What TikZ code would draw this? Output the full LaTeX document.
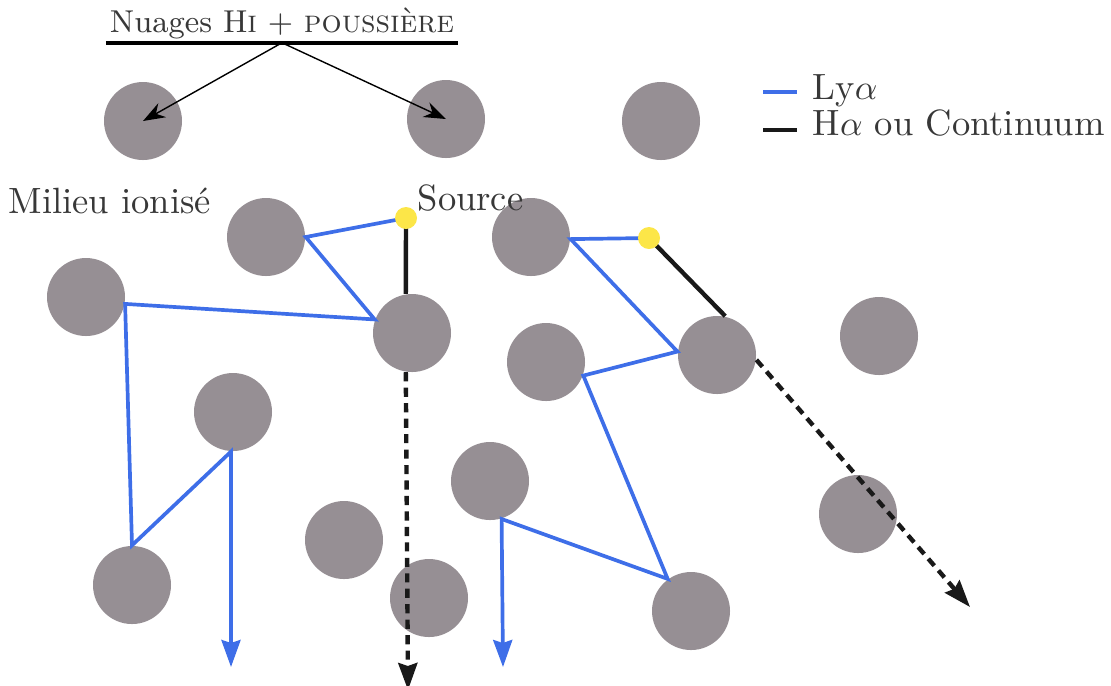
\documentclass[tikz,border=0pt]{standalone}
\usepackage{tikz}
\usetikzlibrary{calc,positioning,arrows.meta}
\definecolor{nuagegris}{RGB}{150,143,148}
\definecolor{lyableu}{RGB}{62,110,232}
\definecolor{srcjaune}{RGB}{252,230,72}

\begin{document}
\begin{tikzpicture}[x=0.1mm,y=-0.1mm,>={Stealth[length=2.7mm,width=1.9mm,inset=0.3mm]},
    nuage/.style={circle,fill=nuagegris,minimum size=7.8mm,inner sep=0pt},
    srcpt/.style={circle,fill=srcjaune,minimum size=2.2mm,inner sep=0pt},
    lya/.style={lyableu,line width=1.05pt},
    cont/.style={black!90,line width=1.25pt},
    pointille/.style={cont,dash pattern=on 2.6pt off 1.8pt},
    texte/.style={inner sep=0pt,text=black!78,font=\fontsize{10.4}{12}\selectfont}]
    \useasboundingbox (0,0) rectangle (1111,685);

    % nuages HI + poussiere
    \node[nuage] (n1) at (143,121) {};
    \node[nuage] (n2) at (446,119) {};
    \node[nuage] (n3) at (661,121) {};
    \node[nuage] (n4) at (266,237) {};
    \node[nuage] (n5) at (531,237) {};
    \node[nuage] (n6) at (86,297) {};
    \node[nuage] (n7) at (412,333) {};
    \node[nuage] (n8) at (546,362) {};
    \node[nuage] (n9) at (717,355) {};
    \node[nuage] (n10) at (879,336) {};
    \node[nuage] (n11) at (233,412) {};
    \node[nuage] (n12) at (490,481) {};
    \node[nuage] (n13) at (344,540) {};
    \node[nuage] (n14) at (858,514) {};
    \node[nuage] (n15) at (132,585) {};
    \node[nuage] (n16) at (429,598) {};
    \node[nuage] (n17) at (691,611) {};

    \coordinate (s1) at (406,218);
    \coordinate (s2) at (649,238);
    \coordinate (finA) at (231,667);
    \coordinate (finB) at (503,667);
    \coordinate (finC) at (408,690);
    \coordinate (finD) at (970,607);

    % photons Lya
    \draw[lya,->] (s1) -- (n4.0) -- (n7.160) -- (n6.-10) -- (n15.north) -- (n11.-93) -- (finA);
    \draw[lya,->] (s2) -- (n5.-3) -- (n9.175) -- (n8.-20) -- (n17.126) -- (n12.-73) -- (finB);
    % Halpha / continuum
    \draw[cont] (s1) -- (n7.99);
    \draw[pointille,->] (n7.-99) -- (finC);
    \draw[cont] (s2) -- (n9.78);
    \draw[pointille,->] (n9.-7) -- (finD);

    \node[srcpt] (src1) at (s1) {};
    \node[srcpt] (src2) at (s2) {};

    % textes
    \node[texte,anchor=base,inner sep=1pt,font=\fontsize{9}{11}\selectfont] (titre) at (282,32) {Nuages H\textsc{i} $+$ \textsc{poussière}};
    \draw[line width=1.2pt] (titre.south west) -- (titre.south east);
    \draw[thin,-{Stealth[length=2.2mm,width=1.6mm]}] (titre.south) -- (n1.center);
    \draw[thin,-{Stealth[length=2.2mm,width=1.6mm]}] (titre.south) -- (n2.center);

    \node[texte,anchor=base west] (milieu) at (8,213) {Milieu ionisé};
    \node[texte,anchor=base west] (source) at (417,210) {Source};

    % legende
    \node[texte,anchor=base west] (leglya) at (812,99) {Ly$\alpha$};
    \node[texte,anchor=base west] (legcont) at (812,135) {H$\alpha$ ou Continuum};
    \draw[lya,line width=1.2pt] ($(leglya.base west)+(-49,-7)$) -- ++(34,0);
    \draw[cont,line width=1.2pt] ($(legcont.base west)+(-49,-5)$) -- ++(34,0);
\end{tikzpicture}
\end{document}
